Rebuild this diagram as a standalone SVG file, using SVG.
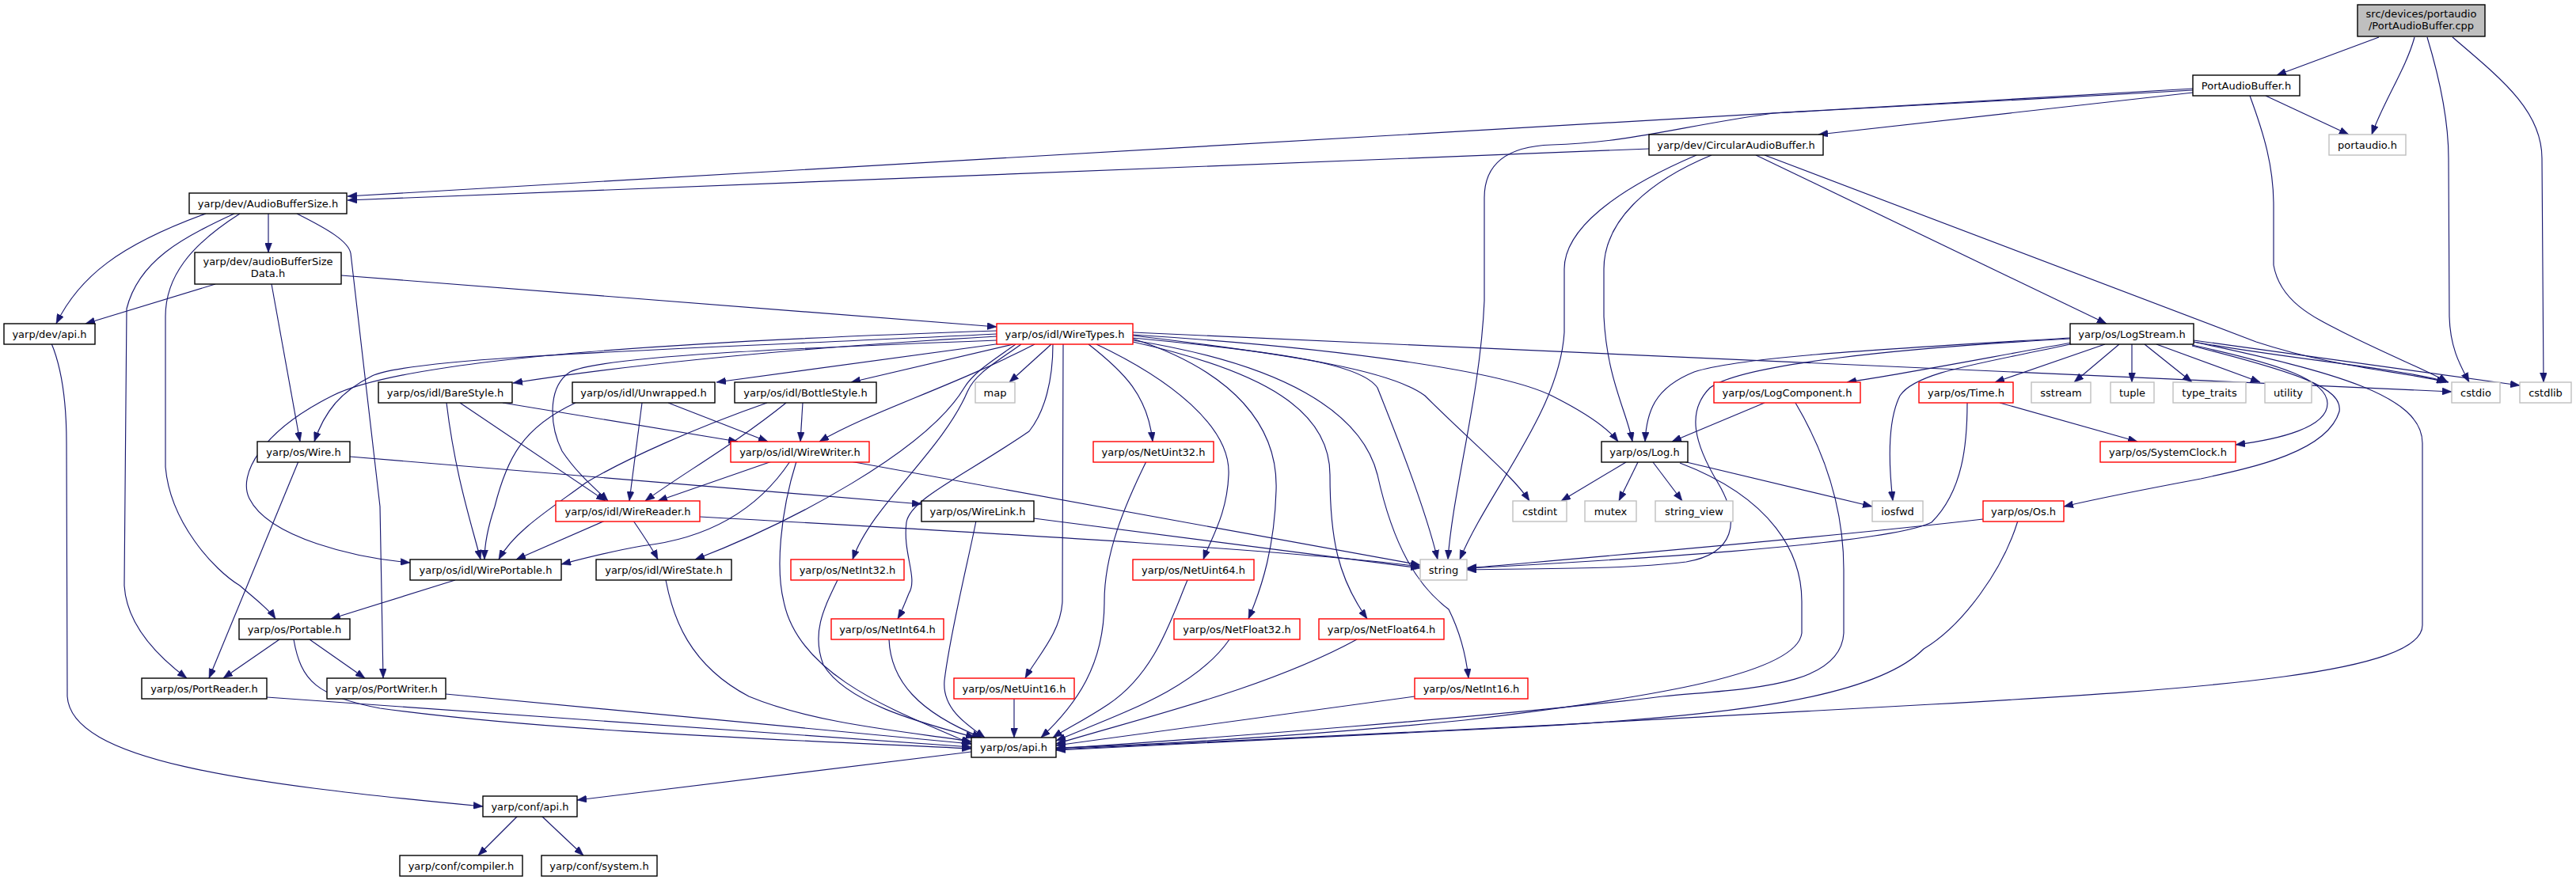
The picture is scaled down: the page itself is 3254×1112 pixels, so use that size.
<svg xmlns="http://www.w3.org/2000/svg" width="3254" height="1112" viewBox="0 0 3254 1112">
<defs>
<marker id="ah" viewBox="0 0 12 9" refX="12" refY="4.5" markerWidth="12" markerHeight="9" markerUnits="userSpaceOnUse" orient="auto"><path d="M0,0L12,4.5L0,9z" fill="#191970" stroke="#191970" stroke-width="0.5"/></marker>
</defs>
<style>
.e path{fill:none;stroke:#191970;stroke-width:1.15;marker-end:url(#ah)}
.n rect{fill:#ffffff;stroke:#000000;stroke-width:1.4}
.g rect{fill:#ffffff;stroke:#bfbfbf;stroke-width:1.4}
.r rect{fill:#ffffff;stroke:#ff0000;stroke-width:1.4}
.root rect{fill:#bfbfbf;stroke:#000000;stroke-width:1.4}
text{font-family:"DejaVu Sans","Liberation Sans",sans-serif;font-size:13px;text-anchor:middle;fill:#000}
</style>
<rect width="3254" height="1112" fill="#ffffff"/>
<g id="connectors" class="e">
<path d="M3005,47 L2876,95"/>
<path d="M3050,47 C3040,85 3010,130 2996,170"/>
<path d="M3066,47 C3082,100 3093,150 3093,200 L3094,400 C3095,440 3108,462 3119,483"/>
<path d="M3098,47 C3160,100 3211,140 3211,200 L3213,483"/>
<path d="M2862,121 L2967,170"/>
<path d="M2770,117 L2297,170"/>
<path d="M2770,112 L439,248"/>
<path d="M2770,114 L2240,143 C2120,160 2060,180 1960,183 C1900,185 1875,210 1875,250 L1875,380 C1870,500 1835,620 1829,707"/>
<path d="M2842,121 C2860,170 2872,210 2872,260 L2872,335 C2880,380 2920,400 2960,420 C3020,450 3070,470 3092,483"/>
<path d="M2083,188 L439,253"/>
<path d="M2162,196 C2080,230 2026,280 2026,340 L2026,400 C2030,480 2055,520 2062,558"/>
<path d="M2143,196 C2040,240 1976,290 1976,340 L1976,420 C1970,520 1880,620 1844,707"/>
<path d="M2218,196 L2661,409"/>
<path d="M2229,196 L2850,432 C2950,465 3040,470 3090,483"/>
<path d="M339,270 L339,319"/>
<path d="M260,270 C150,310 100,350 71,409"/>
<path d="M296,270 C230,300 175,330 160,390 L157,740 C160,790 200,830 236,857"/>
<path d="M303,270 C240,310 209,350 209,400 L209,590 C215,660 270,720 303,740 C320,755 340,770 348,782"/>
<path d="M375,270 C415,290 440,305 443,320 L480,640 L484,857"/>
<path d="M272,359 L108,409"/>
<path d="M343,359 L379,558"/>
<path d="M431,348 L1259,413"/>
<path d="M65,434 C80,470 84,520 84,560 L85,880 C90,960 300,990 610,1019"/>
<path d="M1259,425 C1000,440 800,460 648,484"/>
<path d="M1265,434 L905,483"/>
<path d="M1280,435 L1075,483"/>
<path d="M1328,435 L1275,483"/>
<path d="M1307,435 C1200,490 1100,520 1035,558"/>
<path d="M1259,422 C900,440 520,450 470,475 C430,495 410,520 397,558"/>
<path d="M1259,418 C900,430 520,450 420,500 C330,545 300,600 315,630 C340,680 450,705 518,711"/>
<path d="M1259,430 C1000,440 760,450 720,470 C690,490 695,540 710,570 C730,600 755,620 768,633"/>
<path d="M1283,435 C1255,455 1230,470 1218,490 C1170,570 1000,660 878,707"/>
<path d="M1290,435 C1258,458 1232,472 1222,495 C1190,570 1100,640 1077,707"/>
<path d="M1330,435 C1330,480 1320,520 1300,545 C1220,600 1150,630 1145,660 C1140,700 1160,730 1148,750 C1142,765 1138,775 1134,782"/>
<path d="M1343,435 L1342,760 C1340,800 1310,830 1295,857"/>
<path d="M1375,435 C1420,470 1450,500 1456,558"/>
<path d="M1385,435 C1480,480 1555,540 1552,600 C1550,650 1530,680 1520,707"/>
<path d="M1431,428 C1560,470 1615,540 1612,620 C1610,690 1595,740 1577,782"/>
<path d="M1431,432 C1600,470 1680,520 1680,600 C1680,680 1690,730 1727,782"/>
<path d="M1431,430 C1620,460 1720,520 1740,600 C1760,690 1790,740 1830,770 C1845,800 1852,830 1855,857"/>
<path d="M1431,427 C1620,445 1720,460 1740,490 C1760,540 1800,640 1816,707"/>
<path d="M1431,424 C1650,450 1760,470 1800,500 C1860,560 1910,600 1932,633"/>
<path d="M1431,423 C1700,440 1900,470 1960,500 C2000,520 2030,540 2044,558"/>
<path d="M1431,420 L3097,495"/>
<path d="M564,509 C575,600 595,660 607,707"/>
<path d="M581,509 L765,633"/>
<path d="M635,509 L932,558"/>
<path d="M727,509 C660,540 640,580 625,640 C615,670 612,690 612,707"/>
<path d="M811,509 L795,633"/>
<path d="M844,509 L970,558"/>
<path d="M1014,509 L1011,558"/>
<path d="M993,509 C930,560 860,600 815,633"/>
<path d="M969,509 C880,540 790,580 740,610 C700,640 650,670 630,707"/>
<path d="M442,577 L1164,637"/>
<path d="M377,583 L264,857"/>
<path d="M975,583 L831,633"/>
<path d="M998,583 C960,640 900,680 810,690 C770,697 740,705 709,713"/>
<path d="M1006,583 C985,650 980,720 990,760 C1010,860 1150,905 1227,940"/>
<path d="M1074,583 L1794,714"/>
<path d="M764,658 L652,707"/>
<path d="M800,658 C815,680 825,695 831,707"/>
<path d="M884,653 C1300,676 1650,697 1794,716"/>
<path d="M1306,655 C1500,680 1700,705 1794,718"/>
<path d="M1233,658 C1225,700 1200,800 1193,860 C1190,895 1220,915 1244,932"/>
<path d="M575,733 L418,782"/>
<path d="M841,733 C850,780 870,840 946,880 C1030,915 1150,925 1227,937"/>
<path d="M1058,733 C1040,770 1025,800 1040,840 C1070,890 1170,915 1232,932"/>
<path d="M1123,808 C1125,860 1160,900 1240,932"/>
<path d="M1281,883 L1281,932"/>
<path d="M1448,583 C1420,640 1395,700 1395,760 C1395,840 1360,890 1315,932"/>
<path d="M1500,733 C1480,780 1460,850 1400,890 C1370,910 1345,922 1330,932"/>
<path d="M1553,808 C1510,870 1420,900 1334,936"/>
<path d="M1714,808 C1600,870 1450,905 1334,940"/>
<path d="M1787,880 L1334,942"/>
<path d="M353,808 L282,857"/>
<path d="M391,808 L461,857"/>
<path d="M371,808 C380,860 400,880 480,895 C700,925 1000,935 1227,946"/>
<path d="M337,881 L1227,944"/>
<path d="M563,877 L1227,940"/>
<path d="M1227,950 L729,1011"/>
<path d="M654,1031 L604,1081"/>
<path d="M684,1031 L737,1081"/>
<path d="M2615,427 C2400,440 2200,450 2140,470 C2090,490 2080,520 2078,558"/>
<path d="M2615,428 C2400,440 2200,460 2160,490 C2130,520 2140,560 2170,610 C2200,660 2190,700 2130,710 C2050,720 1950,718 1853,720"/>
<path d="M2617,433 C2520,450 2420,470 2333,483"/>
<path d="M2620,434 C2500,460 2420,470 2400,500 C2385,530 2385,580 2391,633"/>
<path d="M2659,435 L2520,483"/>
<path d="M2677,435 L2620,483"/>
<path d="M2693,435 L2693,483"/>
<path d="M2709,435 L2769,483"/>
<path d="M2724,435 L2855,483"/>
<path d="M2771,432 C2900,455 3030,465 3093,483"/>
<path d="M2771,430 L3183,487"/>
<path d="M2769,436 C2880,460 2940,480 2940,510 C2940,540 2880,555 2824,562"/>
<path d="M2769,437 C2900,470 2960,490 2955,520 C2940,570 2850,590 2780,605 C2700,620 2650,630 2607,640"/>
<path d="M2771,432 C2950,470 3060,500 3060,560 L3060,790 C3060,850 2800,870 2440,890 C2100,910 1600,935 1334,947"/>
<path d="M2054,584 L1972,633"/>
<path d="M2069,584 L2045,633"/>
<path d="M2088,584 L2125,633"/>
<path d="M2122,582 L2365,640"/>
<path d="M2122,585 C2240,630 2276,700 2276,760 L2276,800 C2270,850 2100,880 1850,910 C1600,935 1400,943 1334,945"/>
<path d="M2229,509 L2112,558"/>
<path d="M2268,509 C2310,580 2329,650 2329,720 L2329,800 C2325,870 2200,870 2100,880 C1900,905 1500,935 1334,946"/>
<path d="M2526,509 L2700,558"/>
<path d="M2485,509 C2485,560 2480,620 2440,660 C2380,690 2000,710 1853,718"/>
<path d="M2505,656 C2300,680 2000,705 1853,718"/>
<path d="M2549,658 C2530,720 2480,790 2430,820 C2370,880 2200,905 1900,920 C1600,935 1400,943 1334,948"/>
</g>
<g id="node_cpp" class="root"><rect x="2978" y="6" width="161" height="40"/><text x="3058.5" y="22">src/devices/portaudio</text><text x="3058.5" y="37">/PortAudioBuffer.cpp</text></g>
<g id="node_PortAudioBuffer_h" class="n"><rect x="2770" y="95" width="135" height="26"/><text x="2837.5" y="112.5">PortAudioBuffer.h</text></g>
<g id="node_portaudio_h" class="g"><rect x="2942" y="170" width="97" height="26"/><text x="2990.5" y="187.5">portaudio.h</text></g>
<g id="node_CircularAudioBuffer_h" class="n"><rect x="2083" y="170" width="220" height="26"/><text x="2193" y="187.5">yarp/dev/CircularAudioBuffer.h</text></g>
<g id="node_AudioBufferSize_h" class="n"><rect x="239" y="244" width="199" height="26"/><text x="338.5" y="261.5">yarp/dev/AudioBufferSize.h</text></g>
<g id="node_audioBufferSizeData_h" class="n"><rect x="246" y="319" width="185" height="40"/><text x="338.5" y="335">yarp/dev/audioBufferSize</text><text x="338.5" y="350">Data.h</text></g>
<g id="node_dev_api_h" class="n"><rect x="5" y="409" width="115" height="26"/><text x="62.5" y="426.5">yarp/dev/api.h</text></g>
<g id="node_WireTypes_h" class="r"><rect x="1259" y="409" width="172" height="26"/><text x="1345" y="426.5">yarp/os/idl/WireTypes.h</text></g>
<g id="node_LogStream_h" class="n"><rect x="2615" y="409" width="156" height="26"/><text x="2693" y="426.5">yarp/os/LogStream.h</text></g>
<g id="node_BareStyle_h" class="n"><rect x="478" y="483" width="169" height="26"/><text x="562.5" y="500.5">yarp/os/idl/BareStyle.h</text></g>
<g id="node_Unwrapped_h" class="n"><rect x="723" y="483" width="180" height="26"/><text x="813" y="500.5">yarp/os/idl/Unwrapped.h</text></g>
<g id="node_BottleStyle_h" class="n"><rect x="928" y="483" width="179" height="26"/><text x="1017.5" y="500.5">yarp/os/idl/BottleStyle.h</text></g>
<g id="node_map" class="g"><rect x="1232" y="483" width="50" height="26"/><text x="1257" y="500.5">map</text></g>
<g id="node_LogComponent_h" class="r"><rect x="2165" y="483" width="185" height="26"/><text x="2257.5" y="500.5">yarp/os/LogComponent.h</text></g>
<g id="node_Time_h" class="r"><rect x="2424" y="483" width="119" height="26"/><text x="2483.5" y="500.5">yarp/os/Time.h</text></g>
<g id="node_sstream" class="g"><rect x="2566" y="483" width="75" height="26"/><text x="2603.5" y="500.5">sstream</text></g>
<g id="node_tuple" class="g"><rect x="2666" y="483" width="55" height="26"/><text x="2693.5" y="500.5">tuple</text></g>
<g id="node_type_traits" class="g"><rect x="2745" y="483" width="92" height="26"/><text x="2791" y="500.5">type_traits</text></g>
<g id="node_utility" class="g"><rect x="2861" y="483" width="59" height="26"/><text x="2890.5" y="500.5">utility</text></g>
<g id="node_cstdio" class="g"><rect x="3097" y="483" width="61" height="26"/><text x="3127.5" y="500.5">cstdio</text></g>
<g id="node_cstdlib" class="g"><rect x="3183" y="483" width="65" height="26"/><text x="3215.5" y="500.5">cstdlib</text></g>
<g id="node_Wire_h" class="n"><rect x="325" y="558" width="117" height="26"/><text x="383.5" y="575.5">yarp/os/Wire.h</text></g>
<g id="node_WireWriter_h" class="r"><rect x="923" y="558" width="175" height="26"/><text x="1010.5" y="575.5">yarp/os/idl/WireWriter.h</text></g>
<g id="node_NetUint32_h" class="r"><rect x="1381" y="558" width="152" height="26"/><text x="1457" y="575.5">yarp/os/NetUint32.h</text></g>
<g id="node_Log_h" class="n"><rect x="2023" y="558" width="109" height="26"/><text x="2077.5" y="575.5">yarp/os/Log.h</text></g>
<g id="node_SystemClock_h" class="r"><rect x="2653" y="558" width="171" height="26"/><text x="2738.5" y="575.5">yarp/os/SystemClock.h</text></g>
<g id="node_WireReader_h" class="r"><rect x="702" y="633" width="182" height="26"/><text x="793" y="650.5">yarp/os/idl/WireReader.h</text></g>
<g id="node_WireLink_h" class="n"><rect x="1164" y="633" width="142" height="26"/><text x="1235" y="650.5">yarp/os/WireLink.h</text></g>
<g id="node_cstdint" class="g"><rect x="1911" y="633" width="68" height="26"/><text x="1945" y="650.5">cstdint</text></g>
<g id="node_mutex" class="g"><rect x="2002" y="633" width="65" height="26"/><text x="2034.5" y="650.5">mutex</text></g>
<g id="node_string_view" class="g"><rect x="2091" y="633" width="98" height="26"/><text x="2140" y="650.5">string_view</text></g>
<g id="node_iosfwd" class="g"><rect x="2365" y="633" width="64" height="26"/><text x="2397" y="650.5">iosfwd</text></g>
<g id="node_Os_h" class="r"><rect x="2505" y="633" width="102" height="26"/><text x="2556" y="650.5">yarp/os/Os.h</text></g>
<g id="node_WirePortable_h" class="n"><rect x="518" y="707" width="191" height="26"/><text x="613.5" y="724.5">yarp/os/idl/WirePortable.h</text></g>
<g id="node_WireState_h" class="n"><rect x="753" y="707" width="171" height="26"/><text x="838.5" y="724.5">yarp/os/idl/WireState.h</text></g>
<g id="node_NetInt32_h" class="r"><rect x="999" y="707" width="143" height="26"/><text x="1070.5" y="724.5">yarp/os/NetInt32.h</text></g>
<g id="node_NetUint64_h" class="r"><rect x="1431" y="707" width="153" height="26"/><text x="1507.5" y="724.5">yarp/os/NetUint64.h</text></g>
<g id="node_string" class="g"><rect x="1794" y="707" width="59" height="26"/><text x="1823.5" y="724.5">string</text></g>
<g id="node_Portable_h" class="n"><rect x="302" y="782" width="140" height="26"/><text x="372" y="799.5">yarp/os/Portable.h</text></g>
<g id="node_NetInt64_h" class="r"><rect x="1050" y="782" width="142" height="26"/><text x="1121" y="799.5">yarp/os/NetInt64.h</text></g>
<g id="node_NetFloat32_h" class="r"><rect x="1483" y="782" width="159" height="26"/><text x="1562.5" y="799.5">yarp/os/NetFloat32.h</text></g>
<g id="node_NetFloat64_h" class="r"><rect x="1666" y="782" width="158" height="26"/><text x="1745" y="799.5">yarp/os/NetFloat64.h</text></g>
<g id="node_PortReader_h" class="n"><rect x="179" y="857" width="158" height="26"/><text x="258" y="874.5">yarp/os/PortReader.h</text></g>
<g id="node_PortWriter_h" class="n"><rect x="413" y="857" width="150" height="26"/><text x="488" y="874.5">yarp/os/PortWriter.h</text></g>
<g id="node_NetUint16_h" class="r"><rect x="1205" y="857" width="152" height="26"/><text x="1281" y="874.5">yarp/os/NetUint16.h</text></g>
<g id="node_NetInt16_h" class="r"><rect x="1787" y="857" width="143" height="26"/><text x="1858.5" y="874.5">yarp/os/NetInt16.h</text></g>
<g id="node_os_api_h" class="n"><rect x="1227" y="932" width="107" height="25"/><text x="1280.5" y="949">yarp/os/api.h</text></g>
<g id="node_conf_api_h" class="n"><rect x="610" y="1006" width="119" height="26"/><text x="669.5" y="1023.5">yarp/conf/api.h</text></g>
<g id="node_conf_compiler_h" class="n"><rect x="505" y="1081" width="155" height="26"/><text x="582.5" y="1098.5">yarp/conf/compiler.h</text></g>
<g id="node_conf_system_h" class="n"><rect x="684" y="1081" width="146" height="26"/><text x="757" y="1098.5">yarp/conf/system.h</text></g>
</svg>
